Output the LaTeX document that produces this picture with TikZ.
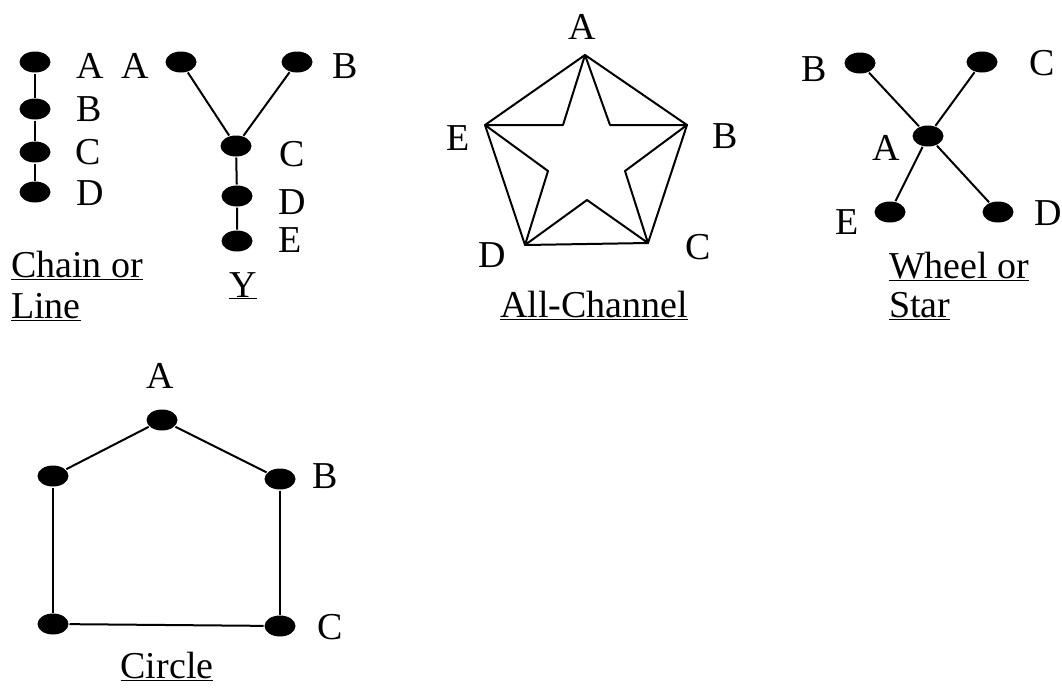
\documentclass[tikz,border=0pt]{standalone}
\usepackage{fontspec}
\setmainfont{Liberation Serif}
\usetikzlibrary{shapes.geometric}
\begin{document}
\begin{tikzpicture}[x=1pt,y=-1pt,line width=2pt,
  dot/.style={ellipse,fill=black,draw=none,minimum width=31pt,minimum height=21pt,inner sep=0pt},
  lbl/.style={font=\fontsize{38}{40}\selectfont,inner sep=0pt},
  captext/.style={font=\fontsize{38}{40}\selectfont,inner sep=0pt}]
\useasboundingbox (0,0) rectangle (1062,689);

% ---------- Chain or Line ----------
\node[dot] (ca) at (35,62) {};
\node[dot] (cb) at (35,109) {};
\node[dot] (cc) at (35,152) {};
\node[dot] (cd) at (35,192) {};
\draw (ca) -- (cb) -- (cc) -- (cd);
\node[lbl] (lca) at (90,66) {A};
\node[lbl] (lcb) at (89,109) {B};
\node[lbl] (lcc) at (88,152) {C};
\node[lbl] (lcd) at (90,193) {D};
\node[captext,anchor=base west] (capc1) at (10,277) {\underline{Chain or}};
\node[captext,anchor=base west] (capc2) at (10,318) {\underline{Line}};

% ---------- Y ----------
\node[dot] (ya) at (181,62) {};
\node[dot] (yb) at (297,62) {};
\node[dot] (yc) at (236,146) {};
\node[dot] (yd) at (237,196) {};
\node[dot] (ye) at (237,241) {};
\draw (ya) -- (yc);
\draw (yb) -- (yc);
\draw (yc) -- (yd) -- (ye);
\node[lbl] (lya) at (135,66) {A};
\node[lbl] (lyb) at (345,66) {B};
\node[lbl] (lyc) at (292,154) {C};
\node[lbl] (lyd) at (292,202) {D};
\node[lbl] (lye) at (290,240) {E};
\node[captext,anchor=base] (capy) at (243,297) {\underline{Y}};

% ---------- All-Channel ----------
\coordinate (pA) at (585,55);
\coordinate (pB) at (687,125);
\coordinate (pC) at (648,243);
\coordinate (pD) at (525,245);
\coordinate (pE) at (485,125);
\coordinate (i1) at (563,125);
\coordinate (i2) at (610,125);
\coordinate (i3) at (625,171);
\coordinate (i4) at (587,200);
\coordinate (i5) at (548,171);
\draw[line join=round] (pA) -- (pB) -- (pC) -- (pD) -- (pE) -- cycle;
\draw[line join=round] (pA) -- (i2) -- (pB) -- (i3) -- (pC) -- (i4) -- (pD) -- (i5) -- (pE) -- (i1) -- cycle;
\node[lbl] (laa) at (582,27) {A};
\node[lbl] (lab) at (725,136) {B};
\node[lbl] (lac) at (698,247) {C};
\node[lbl] (lad) at (492,255) {D};
\node[lbl] (lae) at (458,138) {E};
\node[captext,anchor=base] (capa) at (594,317) {\underline{All-Channel}};

% ---------- Wheel or Star ----------
\node[dot] (wb) at (860,63) {};
\node[dot] (wc) at (982,62) {};
\node[dot] (wa) at (928,136) {};
\node[dot] (we) at (890,212) {};
\node[dot] (wd) at (998,212) {};
\draw (wb) -- (wa);
\draw (wc) -- (wa);
\draw (wa) -- (we);
\draw (wa) -- (wd);
\node[lbl] (lwb) at (814,69) {B};
\node[lbl] (lwc) at (1042,63) {C};
\node[lbl] (lwa) at (886,148) {A};
\node[lbl] (lwe) at (847,222) {E};
\node[lbl] (lwd) at (1048,213) {D};
\node[captext,anchor=base west] (capw1) at (888,278) {\underline{Wheel or}};
\node[captext,anchor=base west] (capw2) at (888,317) {\underline{Star}};

% ---------- Circle ----------
\node[dot] (ra) at (162,420) {};
\node[dot] (rl1) at (53,476) {};
\node[dot] (rb) at (280,479) {};
\node[dot] (rc) at (280,626) {};
\node[dot] (rl2) at (53,624) {};
\draw (ra) -- (rl1);
\draw (ra) -- (rb);
\draw (rb) -- (rc);
\draw (rc) -- (rl2);
\draw (rl2) -- (rl1);
\node[lbl] (lra) at (160,376) {A};
\node[lbl] (lrb) at (325,476) {B};
\node[lbl] (lrc) at (330,627) {C};
\node[captext,anchor=base] (capr) at (167,678) {\underline{Circle}};
\end{tikzpicture}
\end{document}
